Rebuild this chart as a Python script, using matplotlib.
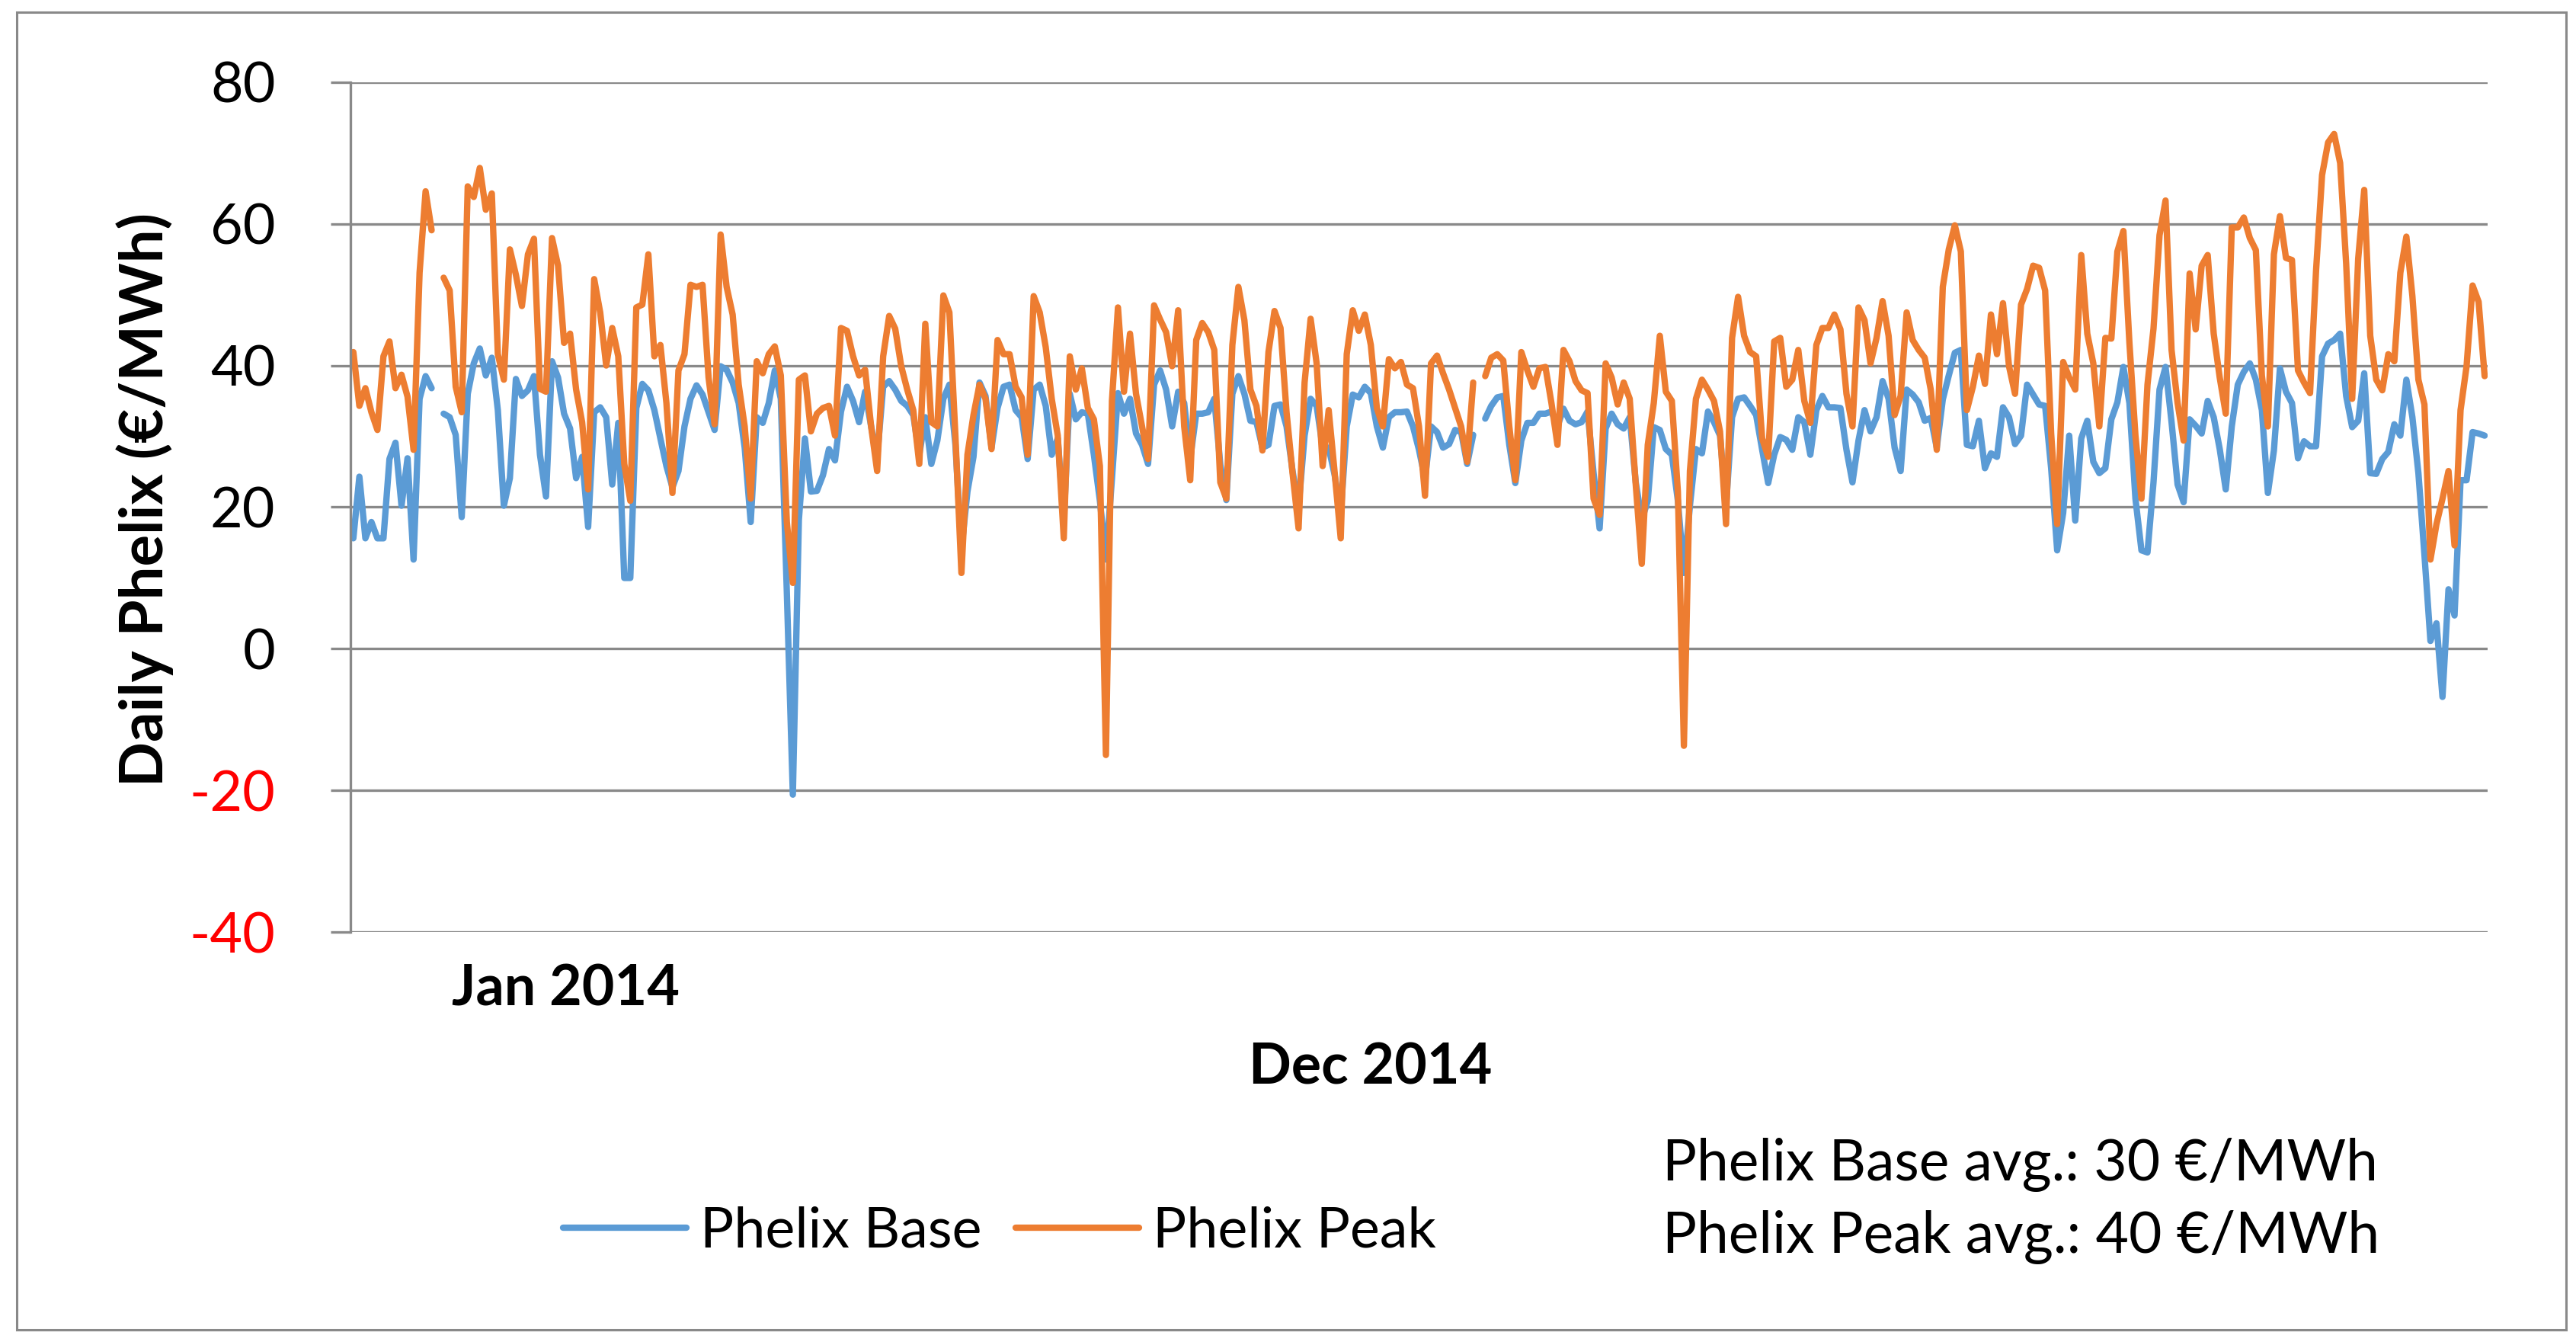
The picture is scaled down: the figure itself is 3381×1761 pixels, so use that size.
import numpy as np
import matplotlib.pyplot as plt
from matplotlib.patches import Rectangle

nan = np.nan

# daily Phelix prices 2014 (EUR/MWh)
base_jan = [15.6, 24.3, 15.6, 17.9, 15.6, 15.6, 26.8, 29.1, 20.2, 26.9, 12.6, 35.3, 38.5, 36.8, nan,
            33.2, 32.7, 30.2, 18.6, 36.0, 40.3, 42.4, 38.6, 41.1, 33.7, 20.2, 24.1, 38.1, 35.7, 36.5,
            38.5, 27.4, 21.5, 40.6, 38.3, 33.2, 31.1, 24.1, 27.1, 17.2, 33.4, 34.1, 32.7, 23.2, 31.9,
            10.0, 10.0, 34.0, 37.4, 36.5, 33.7, 29.7, 25.8, 22.8, 25.1, 31.4, 35.3, 37.2, 35.9, 33.4, 30.9]
base_spring = [39.9, 39.4, 37.6, 34.7, 28.4, 17.9, 32.7, 31.9, 34.7, 39.3, 35.3, 8.0, -20.6, 18.2, 29.7,
               22.2, 22.3, 24.5, 28.2, 26.6, 33.5, 37.0, 35.0, 32.0, 36.3, 31.4, 27.0, 37.0, 37.8, 36.6,
               35.0, 34.3, 33.0, 27.4, 32.7, 26.1, 29.4, 35.3, 37.3, 28.8, 14.0, 22.2, 27.1, 37.6, 35.7,
               28.4, 34.0, 37.0, 37.3, 33.7, 32.7, 26.8, 36.6, 37.3, 34.3, 27.4, 29.7, 18.0, 36.0]
base_summer = [32.4, 33.4, 33.2, 27.4, 20.9, 12.6, 24.0, 36.1, 33.2, 35.3, 30.4, 28.8, 26.1, 37.3, 39.3,
               36.6, 31.4, 36.3, 34.7, 26.8, 33.2, 33.2, 33.4, 35.3, 26.0, 21.0, 36.0, 38.5, 36.0, 32.2,
               32.0, 28.4, 28.8, 34.3, 34.5, 31.4, 25.1, 20.0, 30.1, 35.3, 34.3, 28.4, 28.4, 24.5, 19.0,
               31.4, 35.9, 35.5, 37.0, 36.1, 31.4, 28.4, 32.7, 33.4, 33.4, 33.5, 31.4, 28.1, 24.0, 31.4]
base_autumn = [30.6, 28.4, 28.9, 30.9, 30.6, 26.1, 30.2, nan,
               32.5, 34.3, 35.5, 35.7, 28.8, 23.4, 29.4, 31.9, 31.9, 33.2, 33.2, 33.5, 31.4, 33.9, 32.2,
               31.7, 32.0, 33.5, 24.8, 17.0, 31.1, 33.2, 31.7, 31.1, 32.7, 23.5, 18.2, 20.9, 31.3, 30.9,
               28.2, 27.4, 20.9, 10.7, 20.2, 28.2, 27.6, 33.5, 32.0, 30.1, 20.2, 32.7, 35.3, 35.5, 34.3,
               33.0, 28.1, 23.4, 27.4, 29.9, 29.5]
base_fall = [28.1, 32.7, 32.0, 27.4, 33.7, 35.7, 34.1, 34.1, 34.0, 28.1, 23.5, 29.4, 33.7, 30.7, 32.7,
             37.8, 35.3, 28.4, 25.1, 36.6, 35.9, 34.8, 32.2, 32.6, 28.4, 35.2, 38.6, 41.8, 42.2, 28.8,
             28.6, 32.2, 25.5, 27.6, 27.1, 34.1, 32.7, 28.9, 30.1, 37.3, 35.9, 34.5, 34.3, 25.5, 13.9,
             19.2, 30.1, 18.1, 29.7, 32.2, 26.4, 24.8, 25.5, 32.4, 34.8, 39.8, 34.7, 21.2, 13.9, 13.6]
base_winter = [23.5, 36.6, 39.8, 32.0, 23.2, 20.7, 32.4, 31.5, 30.4, 35.0, 32.7, 28.2, 22.5, 31.4, 37.3,
               39.1, 40.3, 38.0, 33.7, 22.0, 28.0, 39.6, 36.3, 34.7, 26.9, 29.3, 28.6, 28.6, 41.3, 43.1,
               43.6, 44.5, 35.7, 31.3, 32.2, 38.9, 24.8, 24.7, 26.8, 27.8, 31.7, 30.1, 38.0, 32.7, 24.8,
               13.3, 1.1, 3.6, -6.8, 8.4, 4.7, 23.8, 23.8, 30.6, 30.4, 30.1]

peak_jan = [41.9, 34.3, 36.8, 33.4, 30.9, 41.3, 43.4, 36.8, 38.7, 35.6, 28.1, 53.1, 64.6, 59.1, nan,
            52.4, 50.6, 37.0, 33.4, 65.3, 63.8, 67.9, 62.0, 64.3, 41.6, 38.0, 56.4, 52.8, 48.4, 55.7,
            57.9, 36.7, 36.3, 58.0, 54.1, 43.2, 44.5, 36.6, 32.0, 22.5, 52.2, 47.5, 40.0, 45.3, 41.3,
            26.1, 20.9, 48.2, 48.6, 55.7, 41.3, 42.9, 34.7, 22.0, 39.3, 41.6, 51.4, 51.1, 51.4, 38.3, 31.7]
peak_spring = [58.5, 51.1, 47.2, 37.3, 31.4, 21.2, 40.6, 38.9, 41.6, 42.7, 38.6, 17.9, 9.3, 38.0, 38.6,
               30.7, 33.2, 34.0, 34.3, 30.1, 45.3, 44.9, 41.3, 38.6, 39.4, 31.4, 25.1, 41.3, 47.0, 45.2,
               39.9, 36.6, 33.7, 26.1, 45.9, 32.0, 31.4, 49.9, 47.5, 30.1, 10.7, 27.4, 33.0, 37.3, 35.3,
               28.2, 43.6, 41.6, 41.6, 37.0, 35.5, 27.4, 49.8, 47.5, 42.6, 35.3, 30.1, 15.6, 41.3]
peak_summer = [36.6, 39.6, 34.0, 32.4, 25.8, -15.0, 35.0, 48.2, 36.3, 44.5, 36.0, 31.4, 26.8, 48.5, 46.5,
               44.7, 39.9, 47.8, 31.4, 23.8, 43.6, 46.0, 44.7, 42.2, 23.5, 21.2, 42.9, 51.1, 46.4, 36.6,
               34.3, 28.0, 41.9, 47.7, 45.3, 33.4, 24.8, 17.0, 37.6, 46.6, 40.3, 25.8, 33.7, 24.8, 15.6,
               41.6, 47.8, 44.9, 47.2, 42.9, 34.0, 31.4, 40.9, 39.6, 40.5, 37.3, 36.8, 31.4, 21.6, 40.3]
peak_autumn = [41.4, 38.9, 36.6, 34.0, 31.4, 26.4, 37.6, nan,
               38.5, 41.1, 41.6, 40.7, 31.4, 23.8, 41.9, 39.3, 37.0, 39.6, 39.8, 34.7, 28.8, 42.2, 40.6,
               37.8, 36.5, 36.1, 21.2, 18.9, 40.3, 38.3, 34.5, 37.6, 35.3, 23.2, 12.0, 28.8, 34.7, 44.2,
               36.3, 35.0, 22.2, -13.7, 25.1, 35.3, 38.0, 36.6, 35.0, 30.7, 17.6, 43.9, 49.7, 44.2, 41.9,
               41.3, 29.7, 27.1, 43.4, 43.9, 37.0]
peak_fall = [38.0, 42.2, 35.0, 31.9, 42.9, 45.3, 45.3, 47.2, 45.1, 36.0, 31.4, 48.2, 46.4, 40.3, 43.9,
             49.1, 44.2, 33.0, 35.7, 47.5, 43.6, 42.2, 41.1, 36.6, 28.1, 51.1, 56.4, 59.8, 56.1, 33.7,
             37.0, 41.4, 37.4, 47.2, 41.6, 48.8, 39.9, 36.0, 48.6, 50.8, 54.1, 53.8, 50.6, 30.4, 17.6,
             40.5, 38.3, 36.6, 55.6, 44.5, 40.3, 31.4, 43.9, 43.8, 56.1, 59.0, 43.2, 30.1, 21.2, 37.3]
peak_winter = [45.2, 58.4, 63.3, 42.2, 34.7, 29.4, 53.0, 45.1, 54.1, 55.6, 44.5, 38.3, 33.2, 59.5, 59.5,
               60.9, 58.0, 56.3, 38.6, 31.4, 55.7, 61.1, 55.2, 54.9, 39.3, 37.6, 36.1, 53.4, 66.9, 71.5,
               72.7, 68.6, 54.4, 35.3, 55.1, 64.8, 44.2, 38.0, 36.5, 41.6, 40.6, 53.1, 58.2, 49.8, 38.0,
               34.5, 12.6, 17.6, 21.2, 25.1, 14.6, 33.7, 39.9, 51.3, 49.0, 38.5]

yticks = [-40, -20, 0, 20, 40, 60, 80]
series_names = ['Phelix Base', 'Phelix Peak']
avg_lines = ['Phelix Base avg.: 30 €/MWh', 'Phelix Peak avg.: 40 €/MWh']

base = np.array(base_jan + base_spring + base_summer + base_autumn + base_fall + base_winter)
peak = np.array(peak_jan + peak_spring + peak_summer + peak_autumn + peak_fall + peak_winter)
days = np.arange(len(base))

plt.rcParams['font.family'] = ['Lato', 'DejaVu Sans']
plt.rcParams['axes.unicode_minus'] = False
grid_col = '#898989'
fs = 26.5

fig = plt.figure(figsize=(3381 / 200, 1761 / 200), dpi=200)
fig.patches.append(Rectangle((0.0065, 0.0091), 0.9897, 0.9818, transform=fig.transFigure,
                             fill=False, edgecolor=grid_col, linewidth=1.1))

ax = fig.add_axes([0.136, 0.3055, 0.8297, 0.6332])
ax.plot(days, base, color='#5B9BD5', lw=3.0, solid_joinstyle='round', solid_capstyle='round',
        label=series_names[0])
ax.plot(days, peak, color='#ED7D31', lw=3.0, solid_joinstyle='round', solid_capstyle='round',
        label=series_names[1])

ax.set_xlim(-0.5, len(days) - 0.5)
ax.set_ylim(-40, 80)
ax.set_yticks(yticks)
ax.set_xticks([])
ax.yaxis.grid(True, color=grid_col, lw=1.2)
ax.set_axisbelow(True)
for s in ['top', 'right', 'bottom']:
    ax.spines[s].set_visible(False)
ax.spines['left'].set_color(grid_col)
ax.spines['left'].set_linewidth(1.2)
ax.tick_params(axis='y', direction='out', length=9.4, width=1.2, color=grid_col,
               labelsize=fs, pad=26)
for lab, v in zip(ax.get_yticklabels(), yticks):
    lab.set_color('red' if v < 0 else 'black')

fig.text(0.0562, 0.628, 'Daily Phelix (€/MWh)', rotation=90, ha='center', va='center',
         fontsize=28, fontweight='bold')
fig.text(0.1754, 0.2629, 'Jan 2014', ha='left', va='center', fontsize=fs, fontweight='bold')
fig.text(0.4848, 0.2044, 'Dec 2014', ha='left', va='center', fontsize=fs, fontweight='bold')
fig.text(0.6455, 0.1322, avg_lines[0], ha='left', va='center', fontsize=27)
fig.text(0.6455, 0.0783, avg_lines[1], ha='left', va='center', fontsize=27)

fig.legend(loc='center', bbox_to_anchor=(0.388, 0.0822), ncol=2, frameon=False,
           fontsize=fs, handlelength=2.2, handletextpad=0.25, columnspacing=0.6)

fig.savefig('out.png', dpi=200)
